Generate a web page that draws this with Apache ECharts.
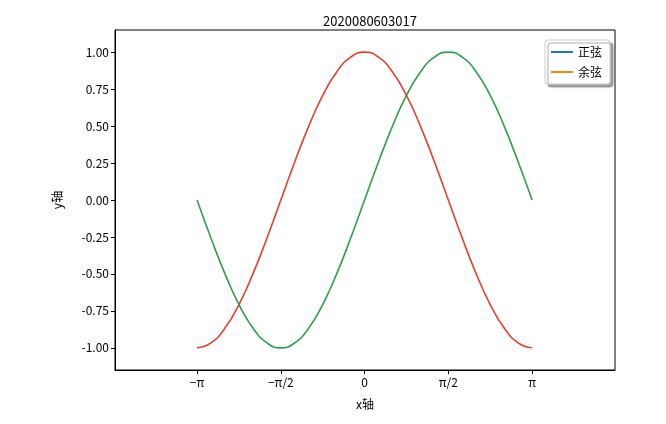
<!DOCTYPE html>
<html><head><meta charset="utf-8">
<script src="https://cdn.jsdelivr.net/npm/echarts@6/dist/echarts.min.js"></script>
<style>html,body{margin:0;background:#fff}#c{width:666px;height:424px}</style>
</head><body><div id="c"></div>
<script>
// x in units of pi/2, sampled every pi/12 (1/6 of pi/2)
const xs = [-2,-1.8333,-1.6667,-1.5,-1.3333,-1.1667,-1,-0.8333,-0.6667,-0.5,-0.3333,-0.1667,0,
  0.1667,0.3333,0.5,0.6667,0.8333,1,1.1667,1.3333,1.5,1.6667,1.8333,2];
const sinVals = [0,-0.259,-0.5,-0.707,-0.866,-0.966,-1,-0.966,-0.866,-0.707,-0.5,-0.259,0,
  0.259,0.5,0.707,0.866,0.966,1,0.966,0.866,0.707,0.5,0.259,0];
const cosVals = [-1,-0.966,-0.866,-0.707,-0.5,-0.259,0,0.259,0.5,0.707,0.866,0.966,1,
  0.966,0.866,0.707,0.5,0.259,0,-0.259,-0.5,-0.707,-0.866,-0.966,-1];
const xTicks = [-2,-1,0,1,2];
const xTickLabels = {'-2':'−π','-1':'−π/2','0':'0','1':'π/2','2':'π'};
const yTicks = [-1,-0.75,-0.5,-0.25,0,0.25,0.5,0.75,1];

const font = '"Noto Sans CJK SC", "DejaVu Sans", sans-serif';
const chart = echarts.init(document.getElementById('c'));
chart.setOption({
  animation: false,
  textStyle: { fontFamily: font },
  title: { text: '2020080603017', left: 365, top: 10, textAlign: 'center',
    textStyle: { fontSize: 13, fontWeight: 'normal', color: '#000', fontFamily: font } },
  grid: { left: 115, right: 51, top: 30, bottom: 54, show: true, borderColor: '#000', borderWidth: 1 },
  legend: {
    data: ['正弦', '余弦'], orient: 'vertical', right: 56, top: 40,
    itemWidth: 22, itemHeight: 2, itemGap: 8, icon: 'rect',
    backgroundColor: '#fff', borderColor: '#ccc', borderWidth: 1, borderRadius: 3,
    padding: [6, 8, 6, 6],
    shadowColor: 'rgba(0,0,0,0.35)', shadowBlur: 1, shadowOffsetX: 3, shadowOffsetY: 3,
    textStyle: { fontSize: 12, color: '#000', fontFamily: font }
  },
  xAxis: {
    type: 'value', min: -2.98, max: 2.99,
    name: 'x轴', nameLocation: 'middle', nameGap: 28,
    nameTextStyle: { fontSize: 12, color: '#000', fontFamily: font },
    axisLine: { show: true, onZero: false, lineStyle: { color: '#000' } }, splitLine: { show: false },
    axisTick: { show: true, customValues: xTicks, length: 4, lineStyle: { color: '#000' } },
    axisLabel: { customValues: xTicks, color: '#000', fontSize: 12, margin: 6,
      formatter: v => xTickLabels[String(Math.round(v))] }
  },
  yAxis: {
    type: 'value', min: -1.15, max: 1.15,
    name: 'y轴', nameLocation: 'middle', nameGap: 52,
    nameTextStyle: { fontSize: 12, color: '#000', fontFamily: font },
    axisLine: { show: true, onZero: false, lineStyle: { color: '#000' } }, splitLine: { show: false },
    axisTick: { show: true, customValues: yTicks, length: 4, lineStyle: { color: '#000' } },
    axisLabel: { customValues: yTicks, color: '#000', fontSize: 12, margin: 6,
      formatter: v => v.toFixed(2) }
  },
  series: [
    { name: '正弦', type: 'line', data: [], itemStyle: { color: '#1f77b4' }, lineStyle: { color: '#1f77b4' } },
    { name: '余弦', type: 'line', data: [], itemStyle: { color: '#ff7f0e' }, lineStyle: { color: '#ff7f0e' } },
    { name: 'cos', type: 'line', smooth: true, symbol: 'none',
      data: xs.map((x, i) => [x, cosVals[i]]), lineStyle: { color: '#e2412c', width: 1.6 } },
    { name: 'sin', type: 'line', smooth: true, symbol: 'none',
      data: xs.map((x, i) => [x, sinVals[i]]), lineStyle: { color: '#2ca04a', width: 1.6 } }
  ]
});
</script></body></html>
